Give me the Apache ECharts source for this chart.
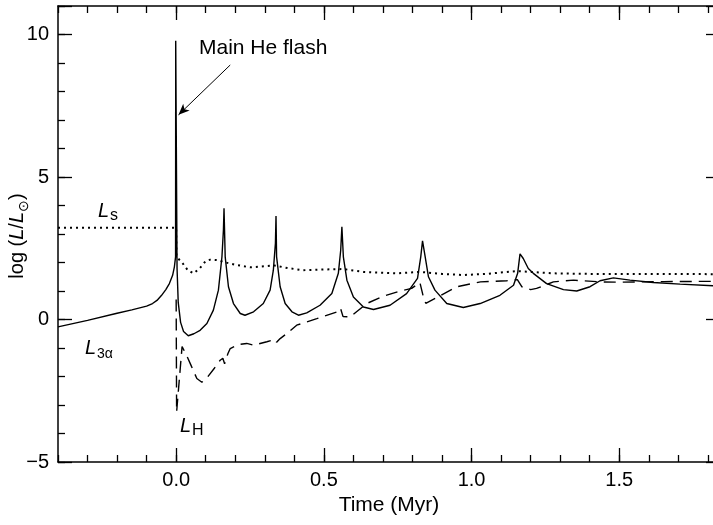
<!DOCTYPE html>
<html>
<head>
<meta charset="utf-8">
<script src="https://cdn.jsdelivr.net/npm/echarts@6/dist/echarts.min.js"></script>
<style>html,body{margin:0;padding:0;background:#fff}#c{width:713px;height:525px}</style>
</head>
<body>
<div id="c"></div>
<script>
// ---- Data (time in Myr, log L/Lsun) ----
var L3alpha = [
  [-0.4,-0.26],[-0.3,-0.03],[-0.2,0.22],[-0.15,0.34],[-0.1,0.47],[-0.08,0.56],[-0.065,0.67],
  [-0.05,0.84],[-0.035,1.05],[-0.023,1.26],
  [-0.012,1.55],[-0.006,1.85],[-0.002,2.2],[-0.0015,9.78],[0.0025,9.78],[0.003,1.8],[0.007,0.6],[0.015,-0.1],
  [0.025,-0.42],[0.041,-0.57],[0.06,-0.5],[0.081,-0.38],[0.104,-0.14],[0.126,0.33],[0.143,1.03],
  [0.155,2.2],[0.16,3.14],[0.162,3.9],[0.166,2.2],[0.177,1.15],[0.194,0.56],[0.217,0.21],
  [0.233,0.15],[0.262,0.27],[0.295,0.56],[0.318,1.03],[0.329,1.73],[0.336,2.67],[0.338,3.63],
  [0.34,2.2],[0.352,1.15],[0.369,0.56],[0.392,0.27],[0.414,0.15],[0.442,0.23],[0.487,0.5],
  [0.527,0.91],[0.549,1.62],[0.557,2.43],[0.561,3.25],[0.566,2.2],[0.578,1.38],[0.6,0.79],
  [0.634,0.44],[0.668,0.35],[0.724,0.5],[0.78,0.91],[0.817,1.44],[0.828,2.2],[0.834,2.76],
  [0.843,2.2],[0.854,1.5],[0.876,1.03],[0.916,0.56],[0.972,0.42],[1.029,0.56],[1.096,0.85],
  [1.142,1.2],[1.156,1.62],[1.164,2.3],[1.175,2.14],[1.192,1.79],[1.209,1.62],[1.254,1.26],
  [1.311,1.05],[1.356,1.0],[1.401,1.15],[1.435,1.36],[1.48,1.46],[1.536,1.38],[1.615,1.3],
  [1.706,1.24],[1.841,1.17]
];
var Ls = [
  [-0.4,3.22],[0,3.22],[0.001,2.2],[0.02,2.0],[0.04,1.72],[0.059,1.62],[0.08,1.8],[0.1,2.05],
  [0.115,2.1],[0.142,2.08],[0.16,2.02],[0.2,1.92],[0.25,1.83],[0.3,1.87],[0.33,1.9],[0.38,1.8],
  [0.43,1.73],[0.52,1.76],[0.566,1.77],[0.634,1.67],[0.747,1.62],[0.826,1.67],[0.9,1.6],
  [0.972,1.56],[1.05,1.6],[1.153,1.7],[1.2,1.67],[1.277,1.62],[1.4,1.6],[1.6,1.6],[1.841,1.59]
];
var LH = [
  [0,0.7],[0.0015,-3.25],[0.02,-0.95],[0.035,-1.25],[0.05,-1.6],[0.07,-2.07],[0.087,-2.2],
  [0.104,-2.05],[0.13,-1.7],[0.149,-1.43],[0.158,-1.36],[0.164,-1.55],[0.175,-1.2],[0.183,-1.02],
  [0.21,-0.88],[0.239,-0.84],[0.262,-0.9],[0.307,-0.78],[0.335,-0.7],[0.34,-0.8],[0.352,-0.67],
  [0.375,-0.49],[0.408,-0.2],[0.476,0.03],[0.545,0.27],[0.556,0.4],[0.565,0.1],[0.589,0.09],
  [0.645,0.56],[0.702,0.82],[0.758,1.0],[0.797,1.09],[0.825,1.3],[0.837,0.79],[0.845,0.57],
  [0.882,0.77],[0.95,1.15],[1.03,1.32],[1.119,1.36],[1.155,1.4],[1.17,1.15],[1.2,1.05],
  [1.22,1.09],[1.277,1.32],[1.345,1.38],[1.435,1.32],[1.5,1.31],[1.65,1.33],[1.841,1.34]
];
var xMajorTicks = [0, 0.5, 1.0, 1.5];
var flashArrow = [[0.183, 8.93], [0.008, 7.18]];

var FONT = '"Liberation Sans", Arial, Helvetica, sans-serif';
var X_MIN = -0.4, X_MAX = 1.841, Y_MIN = -5, Y_MAX = 11;
var black = '#000';

function xAxisMajor(pos, labels) {
  return {
    type: 'value', position: pos, min: X_MIN, max: X_MAX,
    axisLine: {show: true, onZero: false, lineStyle: {color: black, width: 1.5}},
    axisTick: {show: true, inside: true, length: 14, customValues: xMajorTicks, lineStyle: {color: black, width: 1.3}},
    axisLabel: {show: labels, customValues: xMajorTicks, margin: 8, color: black, fontSize: 20, fontFamily: FONT,
      formatter: function (v) { return v.toFixed(1); }},
    splitLine: {show: false},
    name: labels ? 'Time (Myr)' : '', nameLocation: 'middle', nameGap: 30,
    nameTextStyle: {color: black, fontSize: 21, fontFamily: FONT}
  };
}
function xAxisMinor(pos) {
  return {
    type: 'value', position: pos, min: X_MIN, max: X_MAX, interval: 0.1,
    axisLine: {show: false, onZero: false},
    axisTick: {show: true, inside: true, length: 7, lineStyle: {color: black, width: 1.3}},
    axisLabel: {show: false}, splitLine: {show: false}
  };
}
function yAxisMinor(pos, labels) {
  return {
    type: 'value', position: pos, min: Y_MIN, max: Y_MAX, interval: 1,
    axisLine: {show: true, onZero: false, lineStyle: {color: black, width: 1.5}},
    axisTick: {show: true, inside: true, length: 7, lineStyle: {color: black, width: 1.3}},
    axisLabel: {show: labels, margin: 9, color: black, fontSize: 20, fontFamily: FONT,
      formatter: function (v) { return (Math.abs(v % 5) < 1e-9) ? (v < 0 ? '\u2212' + Math.abs(v) : String(v)) : ''; }},
    splitLine: {show: false}
  };
}
function yAxisMajor(pos) {
  return {
    type: 'value', position: pos, min: Y_MIN, max: Y_MAX, interval: 5,
    axisLine: {show: false, onZero: false},
    axisTick: {show: true, inside: true, length: 14, lineStyle: {color: black, width: 1.3}},
    axisLabel: {show: false}, splitLine: {show: false}
  };
}

var chart = echarts.init(document.getElementById('c'), null, {renderer: 'canvas'});
chart.setOption({
  backgroundColor: '#fff',
  animation: false,
  grid: {left: 58, right: -7, top: 6, bottom: 63, containLabel: false, outerBoundsMode: 'none'},
  xAxis: [xAxisMajor('bottom', true), xAxisMinor('bottom'), xAxisMajor('top', false), xAxisMinor('top')],
  yAxis: [yAxisMinor('left', true), yAxisMajor('left'), yAxisMinor('right', false), yAxisMajor('right')],
  series: [
    {
      name: 'L3a', type: 'line', data: L3alpha, xAxisIndex: 0, yAxisIndex: 0,
      showSymbol: false, symbol: 'none', smooth: false,
      lineStyle: {color: black, width: 1.4},
      markLine: {
        silent: true, animation: false,
        symbol: ['none', 'arrow'], symbolSize: [7, 11],
        label: {show: false},
        lineStyle: {color: black, width: 1, type: 'solid'},
        data: [[{coord: flashArrow[0]}, {coord: flashArrow[1]}]]
      }
    },
    {
      name: 'Ls', type: 'line', data: Ls, xAxisIndex: 0, yAxisIndex: 0,
      showSymbol: false, symbol: 'none',
      lineStyle: {color: black, width: 2, type: [2, 4]}
    },
    {
      name: 'LH', type: 'line', data: LH, xAxisIndex: 0, yAxisIndex: 0,
      showSymbol: false, symbol: 'none',
      lineStyle: {color: black, width: 1.4, type: [12, 7]}
    }
  ],
  graphic: [
    {type: 'text', x: 15, y: 236, rotation: Math.PI / 2,
      style: {text: '{a|log (}{i|L}{a|/}{i|L}{b|\u2299}{a|)}', align: 'center', verticalAlign: 'middle',
        rich: {
          a: {fontSize: 20, fontFamily: FONT, fill: black, verticalAlign: 'bottom', lineHeight: 24},
          i: {fontSize: 20, fontFamily: FONT, fontStyle: 'italic', fill: black, verticalAlign: 'bottom', lineHeight: 24},
          b: {fontSize: 14, fontFamily: FONT, fill: black, verticalAlign: 'bottom', lineHeight: 24, padding: [0, 0, -4, 0]}
        }}},
    {type: 'text', left: 199, top: 38, style: {text: 'Main He flash', fill: black, font: '21px ' + FONT}},
    {type: 'text', x: 98, y: 211, style: {text: 'L', fill: black, font: 'italic 20px ' + FONT, verticalAlign: 'middle'}},
    {type: 'text', x: 110, y: 216, style: {text: 's', fill: black, font: '16px ' + FONT, verticalAlign: 'middle'}},
    {type: 'text', x: 85, y: 348, style: {text: 'L', fill: black, font: 'italic 20px ' + FONT, verticalAlign: 'middle'}},
    {type: 'text', x: 97, y: 354, style: {text: '3\u03b1', fill: black, font: '14px ' + FONT, verticalAlign: 'middle'}},
    {type: 'text', x: 180, y: 426, style: {text: 'L', fill: black, font: 'italic 20px ' + FONT, verticalAlign: 'middle'}},
    {type: 'text', x: 192, y: 431, style: {text: 'H', fill: black, font: '16px ' + FONT, verticalAlign: 'middle'}}
  ]
});
</script>
</body>
</html>
